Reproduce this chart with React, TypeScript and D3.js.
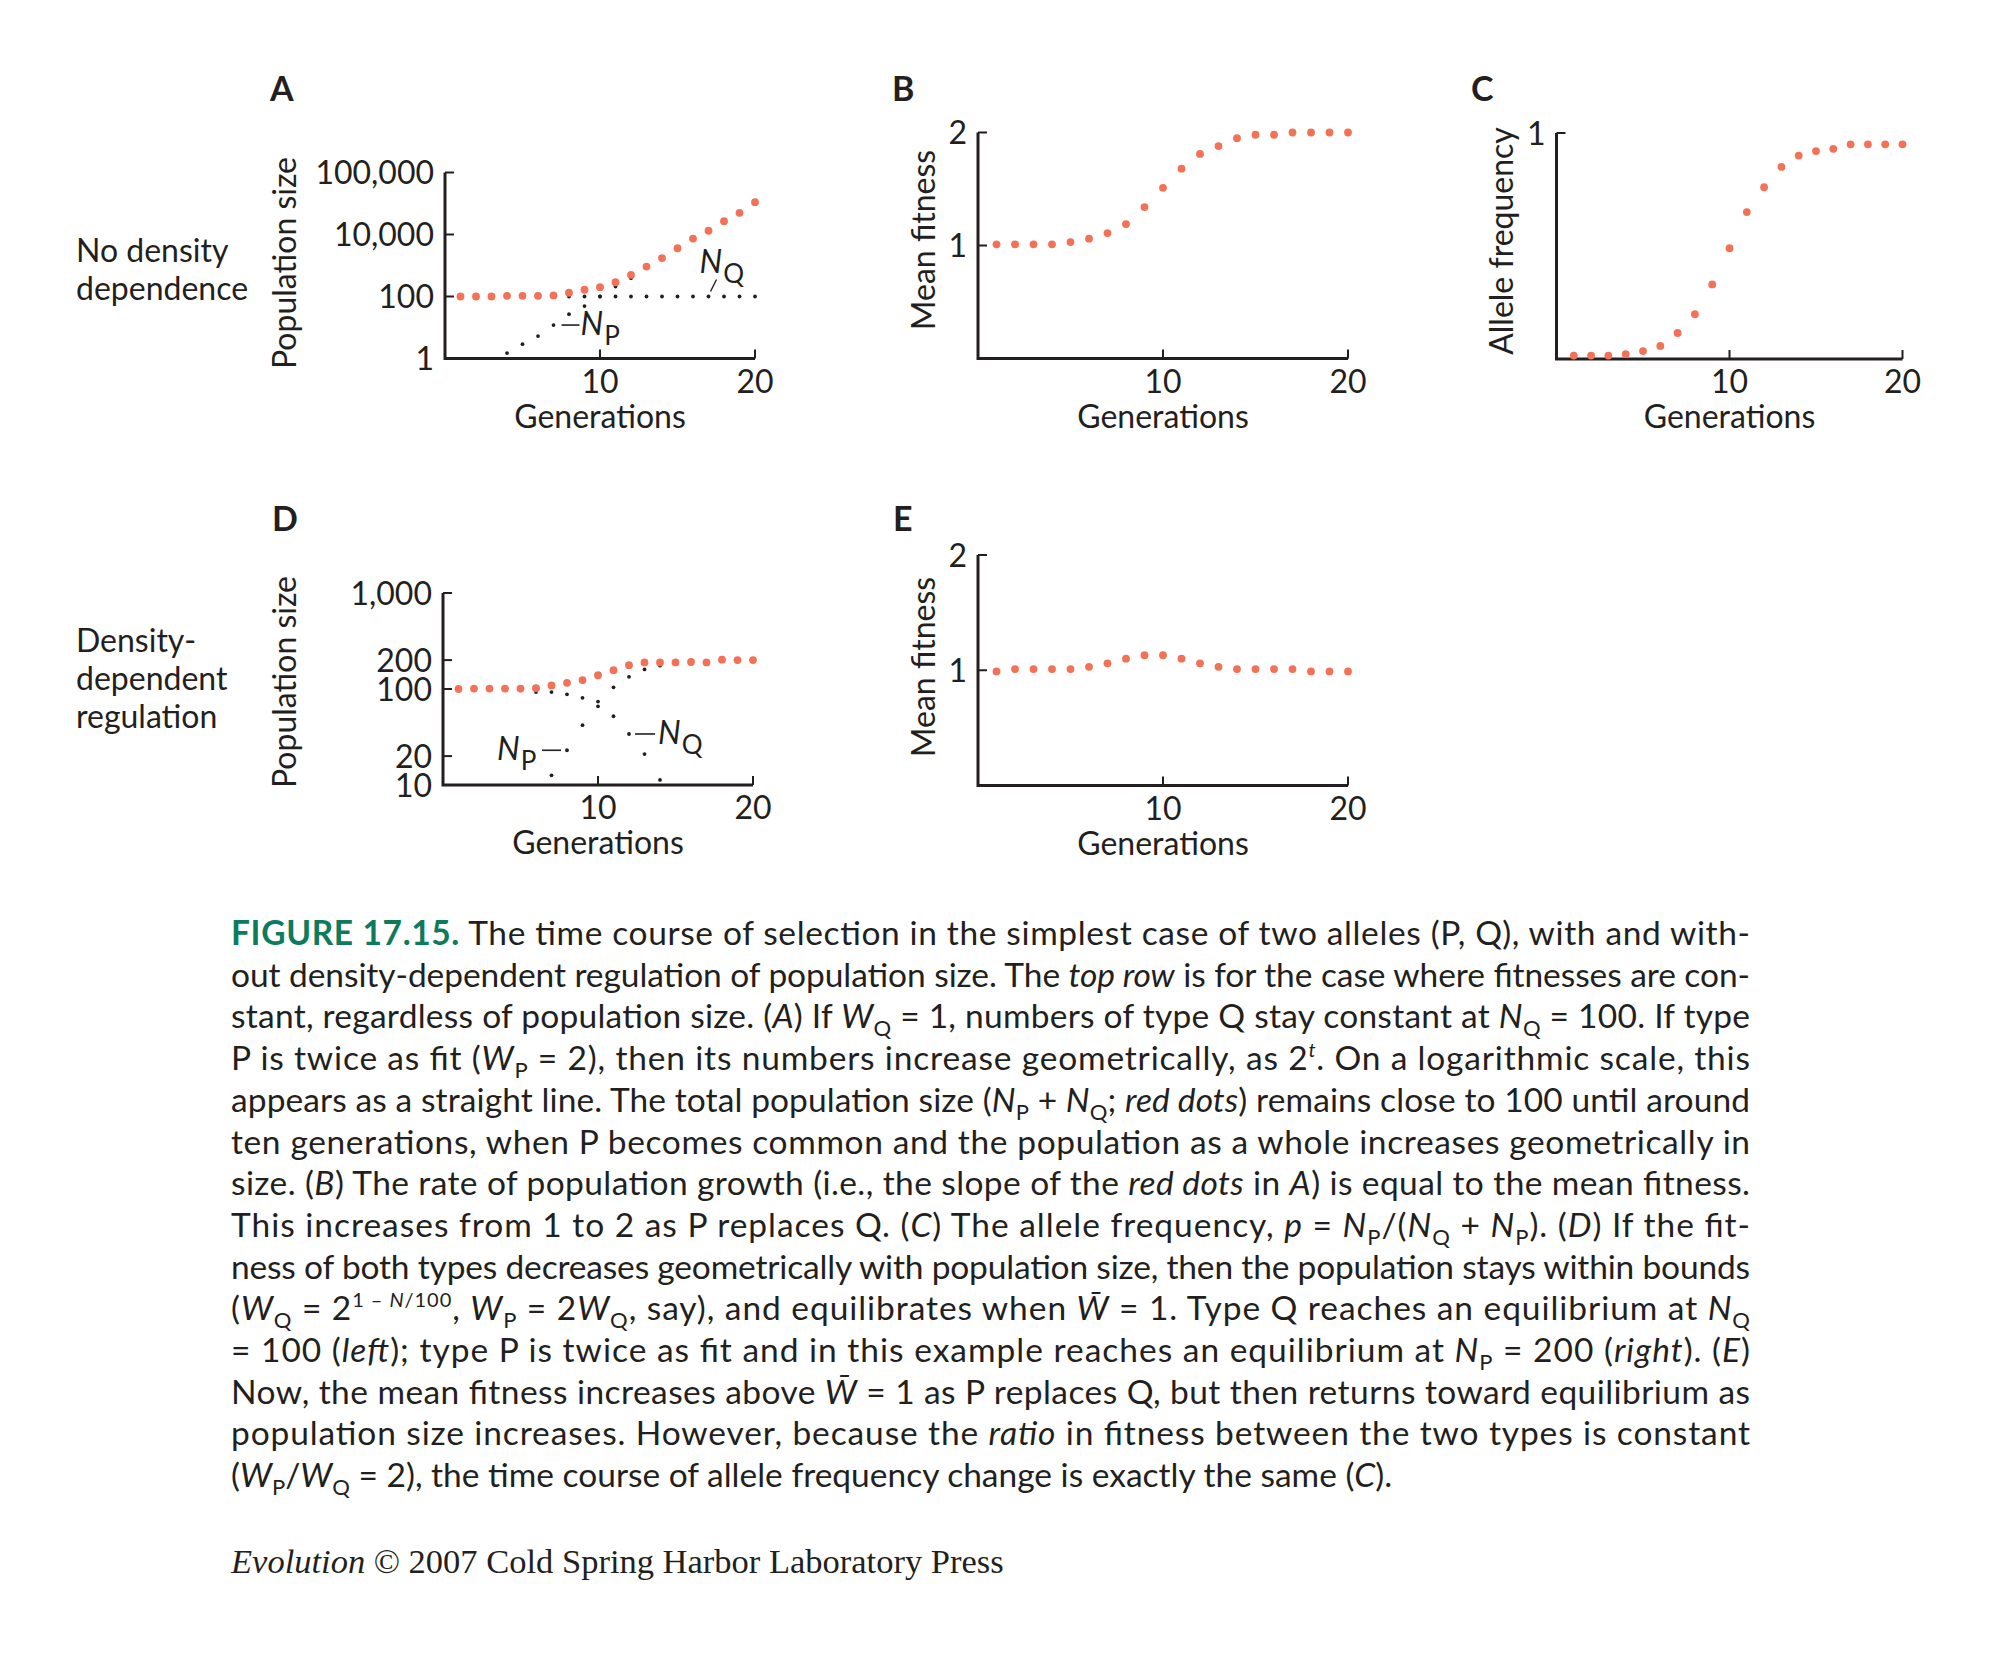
import React from "react";
import * as d3 from "d3";

// ---------- data ----------
const generations = [1, 2, 3, 4, 5, 6, 7, 8, 9, 10, 11, 12, 13, 14, 15, 16, 17, 18, 19, 20];

// A: no density dependence (log population size)
const aTotal = [100, 100, 100, 105, 105, 105, 108, 132, 165, 200, 288, 495, 920, 1730, 3600, 7400, 13200, 27000, 50000, 110000];
const aNP = [null, null, null, 1.5, 2.9, 5.3, 12, 27, 49, 100, 210, 390, 820, 1630, 3500, 7300, 13100, 26900, 49900, 109900];
const aNQ = [100, 100, 100, 100, 100, 100, 100, 100, 100, 100, 100, 100, 100, 100, 100, 100, 100, 100, 100, 100];
const aTickValues = [1, 100, 10000, 1000000];
const aTickLabels = ["1", "100", "10,000", "100,000"];

// B: mean fitness
const bFitness = [1.01, 1.01, 1.01, 1.01, 1.03, 1.06, 1.11, 1.19, 1.34, 1.51, 1.68, 1.81, 1.88, 1.95, 1.98, 1.98, 2.0, 2.0, 2.0, 2.0];

// C: allele frequency
const cFreq = [0.015, 0.015, 0.015, 0.022, 0.035, 0.058, 0.115, 0.198, 0.33, 0.49, 0.65, 0.76, 0.85, 0.9, 0.92, 0.93, 0.95, 0.95, 0.95, 0.95];

// D: density-dependent regulation (log population size)
const dTotal = [100, 101, 101, 101, 101, 102, 109, 116, 124, 139, 157, 177, 189, 189, 189, 191, 189, 202, 200, 200];
const dNQ = [100, 100, 99, 99, 97, 93, 93, 88, 81, 74, 52, 34, 21, 11.3, null, null, null, null, null, null];
const dNP = [null, null, null, null, null, null, 12.6, 23, 42, 66, 104, 134, 160, 175, 184, 188, 186, 200, 199, 199];
const dTickValues = [10, 20, 100, 200, 1000];
const dTickLabels = ["10", "20", "100", "200", "1,000"];

// E: mean fitness with density dependence
const eFitness = [0.99, 1.01, 1.01, 1.01, 1.01, 1.03, 1.06, 1.1, 1.13, 1.13, 1.1, 1.06, 1.03, 1.01, 1.01, 1.01, 1.01, 0.99, 0.99, 0.99];

const fitTicks = [1, 2];
const fitTickLabels = ["1", "2"];
const freqTicks = [1];
const freqTickLabels = ["1"];
const genTicks = [10, 20];
const genTickLabels = ["10", "20"];

// ---------- styles ----------
const INK = "#231f20";
const RED = "#f37257";
const TEAL = "#0e7b5c";
const SANS = "Lato, 'Open Sans', sans-serif";
const LABEL_SIZE = 32;
const RED_R = 3.9;
const BLACK_R = 1.9;

type Seg = { t: string; i?: boolean; sub?: boolean; sup?: boolean; teal?: boolean; b?: boolean };

const WBAR = "W\u0304";

const captionLines: Seg[][] = [
  [{ t: "FIGURE 17.15.", teal: true, b: true }, { t: " The time course of selection in the simplest case of two alleles (P, Q), with and with-" }],
  [{ t: "out density-dependent regulation of population size. The " }, { t: "top row", i: true }, { t: " is for the case where fitnesses are con-" }],
  [{ t: "stant, regardless of population size. (" }, { t: "A", i: true }, { t: ") If " }, { t: "W", i: true }, { t: "Q", sub: true }, { t: " = 1, numbers of type Q stay constant at " }, { t: "N", i: true }, { t: "Q", sub: true }, { t: " = 100. If type" }],
  [{ t: "P is twice as fit (" }, { t: "W", i: true }, { t: "P", sub: true }, { t: " = 2), then its numbers increase geometrically, as 2" }, { t: "t", sup: true, i: true }, { t: ". On a logarithmic scale, this" }],
  [{ t: "appears as a straight line. The total population size (" }, { t: "N", i: true }, { t: "P", sub: true }, { t: " + " }, { t: "N", i: true }, { t: "Q", sub: true }, { t: "; " }, { t: "red dots", i: true }, { t: ") remains close to 100 until around" }],
  [{ t: "ten generations, when P becomes common and the population as a whole increases geometrically in" }],
  [{ t: "size. (" }, { t: "B", i: true }, { t: ") The rate of population growth (i.e., the slope of the " }, { t: "red dots", i: true }, { t: " in " }, { t: "A", i: true }, { t: ") is equal to the mean fitness." }],
  [{ t: "This increases from 1 to 2 as P replaces Q. (" }, { t: "C", i: true }, { t: ") The allele frequency, " }, { t: "p", i: true }, { t: " = " }, { t: "N", i: true }, { t: "P", sub: true }, { t: "/(" }, { t: "N", i: true }, { t: "Q", sub: true }, { t: " + " }, { t: "N", i: true }, { t: "P", sub: true }, { t: "). (" }, { t: "D", i: true }, { t: ") If the fit-" }],
  [{ t: "ness of both types decreases geometrically with population size, then the population stays within bounds" }],
  [{ t: "(" }, { t: "W", i: true }, { t: "Q", sub: true }, { t: " = 2" }, { t: "1 \u2013 ", sup: true }, { t: "N", sup: true, i: true }, { t: "/100", sup: true }, { t: ", " }, { t: "W", i: true }, { t: "P", sub: true }, { t: " = 2" }, { t: "W", i: true }, { t: "Q", sub: true }, { t: ", say), and equilibrates when " }, { t: WBAR, i: true }, { t: " = 1. Type Q reaches an equilibrium at " }, { t: "N", i: true }, { t: "Q", sub: true }],
  [{ t: "= 100 (" }, { t: "left", i: true }, { t: "); type P is twice as fit and in this example reaches an equilibrium at " }, { t: "N", i: true }, { t: "P", sub: true }, { t: " = 200 (" }, { t: "right", i: true }, { t: "). (" }, { t: "E", i: true }, { t: ")" }],
  [{ t: "Now, the mean fitness increases above " }, { t: WBAR, i: true }, { t: " = 1 as P replaces Q, but then returns toward equilibrium as" }],
  [{ t: "population size increases. However, because the " }, { t: "ratio", i: true }, { t: " in fitness between the two types is constant" }],
  [{ t: "(" }, { t: "W", i: true }, { t: "P", sub: true }, { t: "/" }, { t: "W", i: true }, { t: "Q", sub: true }, { t: " = 2), the time course of allele frequency change is exactly the same (" }, { t: "C", i: true }, { t: ")." }],
];

// ---------- scales ----------
const genDomain: [number, number] = [0, 20];
const xA = d3.scaleLinear().domain(genDomain).range([445, 755]);
const yA = d3.scaleLog().domain([1, 1000000]).range([358.5, 172.5]);
const xB = d3.scaleLinear().domain(genDomain).range([978, 1348]);
const yB = d3.scaleLinear().domain([0, 2]).range([358.5, 132.5]);
const xC = d3.scaleLinear().domain(genDomain).range([1556.5, 1902.5]);
const yC = d3.scaleLinear().domain([0, 1]).range([359, 133]);
const xD = d3.scaleLinear().domain(genDomain).range([443, 753]);
const yD = d3.scaleLog().domain([10, 1000]).range([785, 593]);
const xE = d3.scaleLinear().domain(genDomain).range([978, 1348]);
const yE = d3.scaleLinear().domain([0, 2]).range([785.5, 555]);

type Sc = (v: number) => number;

function Dots({ xs, ys, values, r, fill }: { xs: Sc; ys: Sc; values: (number | null)[]; r: number; fill: string }) {
  return (
    <g>
      {generations.map((g, i) =>
        values[i] == null ? null : <circle key={g} cx={xs(g)} cy={ys(values[i] as number)} r={r} fill={fill} />
      )}
    </g>
  );
}

function Axes({ xs, ys, yTicks, yLabels, yTitle, yTitleX, yTitleY }: any) {
  const [x0, x1] = xs.range();
  const [yb, yt] = ys.range();
  return (
    <g fontFamily={SANS} fill={INK} fontSize={LABEL_SIZE}>
      <path d={`M${x0},${yt}V${yb}H${x1}`} fill="none" stroke={INK} strokeWidth={3} />
      {yTicks.map((v: number, i: number) => (
        <g key={v}>
          <line x1={x0} x2={x0 + 9} y1={ys(v)} y2={ys(v)} stroke={INK} strokeWidth={2} />
          <text x={x0 - 11} y={ys(v)} dy="0.36em" textAnchor="end">{yLabels[i]}</text>
        </g>
      ))}
      {genTicks.map((v, i) => (
        <g key={v}>
          <line x1={xs(v)} x2={xs(v)} y1={yb} y2={yb - 9} stroke={INK} strokeWidth={2} />
          <text x={xs(v)} y={yb + 34} textAnchor="middle">{genTickLabels[i]}</text>
        </g>
      ))}
      <text x={xs(10)} y={yb + 69} textAnchor="middle">Generations</text>
      <text transform={`translate(${yTitleX},${yTitleY}) rotate(-90)`} textAnchor="middle">{yTitle}</text>
    </g>
  );
}

function NLabel({ x, y, sub }: { x: number; y: number; sub: string }) {
  return (
    <text x={x} y={y} fontFamily={SANS} fontSize={32} fill={INK}>
      <tspan fontStyle="italic">N</tspan>
      <tspan fontSize={26} dy={10} dx={1}>{sub}</tspan>
    </text>
  );
}

function CaptionLine({ segs, y, justify }: { segs: Seg[]; y: number; justify: boolean }) {
  let cur = 0;
  const spans = segs.map((s, k) => {
    const target = s.sub ? 8 : s.sup ? -13 : 0;
    const dy = target - cur;
    cur = target;
    return (
      <tspan
        key={k}
        dy={dy !== 0 ? dy : undefined}
        fontStyle={s.i ? "italic" : undefined}
        fontWeight={s.b ? 700 : undefined}
        fill={s.teal ? TEAL : undefined}
        fontSize={s.sub ? 22 : s.sup ? 20 : undefined}
      >
        {s.t}
      </tspan>
    );
  });
  return (
    <text
      x={231}
      y={y}
      fontFamily={SANS}
      fontSize={33.5}
      fill={INK}
      xmlSpace="preserve"
      {...(justify ? { textLength: 1519, lengthAdjust: "spacing" } : {})}
    >
      {spans}
    </text>
  );
}

export default function App() {
  return (
    <svg
      width={1995}
      height={1656}
      viewBox="0 0 1995 1656"
      style={{ position: "absolute", left: 0, top: 0, background: "#fff", display: "block" }}
    >
      <rect x={0} y={0} width={1995} height={1656} fill="#fff" />

      {/* panel letters */}
      <g fontFamily={SANS} fontWeight={700} fontSize={34} fill={INK}>
        <text x={270} y={101}>A</text>
        <text x={892} y={101}>B</text>
        <text x={1471} y={101}>C</text>
        <text x={272} y={531}>D</text>
        <text x={893} y={531}>E</text>
      </g>

      {/* row labels */}
      <g fontFamily={SANS} fontSize={LABEL_SIZE} fill={INK}>
        <text x={76} y={262}>No density</text>
        <text x={76} y={300}>dependence</text>
        <text x={76} y={652}>Density-</text>
        <text x={76} y={690}>dependent</text>
        <text x={76} y={728}>regulation</text>
      </g>

      {/* A */}
      <Axes xs={xA} ys={yA} yTicks={aTickValues} yLabels={aTickLabels} yTitle="Population size" yTitleX={296} yTitleY={263} />
      <Dots xs={xA} ys={yA} values={aNQ} r={BLACK_R} fill={INK} />
      <Dots xs={xA} ys={yA} values={aNP} r={BLACK_R} fill={INK} />
      <Dots xs={xA} ys={yA} values={aTotal} r={RED_R} fill={RED} />
      <g>
        <line x1={xA(7) + 8} x2={xA(7) + 26} y1={yA(aNP[6] as number)} y2={yA(aNP[6] as number)} stroke={INK} strokeWidth={1.6} />
        <NLabel x={xA(7) + 27} y={yA(aNP[6] as number) + 10} sub="P" />
        <line x1={xA(17) + 2} x2={xA(17) + 8} y1={yA(aNQ[16]) - 5} y2={yA(aNQ[16]) - 17} stroke={INK} strokeWidth={1.4} />
        <NLabel x={xA(17) - 9} y={yA(aNQ[16]) - 24} sub="Q" />
      </g>

      {/* B */}
      <Axes xs={xB} ys={yB} yTicks={fitTicks} yLabels={fitTickLabels} yTitle="Mean fitness" yTitleX={935} yTitleY={240} />
      <Dots xs={xB} ys={yB} values={bFitness} r={RED_R} fill={RED} />

      {/* C */}
      <Axes xs={xC} ys={yC} yTicks={freqTicks} yLabels={freqTickLabels} yTitle="Allele frequency" yTitleX={1513} yTitleY={241} />
      <Dots xs={xC} ys={yC} values={cFreq} r={RED_R} fill={RED} />

      {/* D */}
      <Axes xs={xD} ys={yD} yTicks={dTickValues} yLabels={dTickLabels} yTitle="Population size" yTitleX={296} yTitleY={682} />
      <Dots xs={xD} ys={yD} values={dNQ} r={BLACK_R} fill={INK} />
      <Dots xs={xD} ys={yD} values={dNP} r={BLACK_R} fill={INK} />
      <Dots xs={xD} ys={yD} values={dTotal} r={RED_R} fill={RED} />
      <g>
        <line x1={xD(8) - 25} x2={xD(8) - 6} y1={yD(dNP[7] as number)} y2={yD(dNP[7] as number)} stroke={INK} strokeWidth={1.6} />
        <NLabel x={xD(8) - 70} y={yD(dNP[7] as number) + 10} sub="P" />
        <line x1={xD(12) + 6} x2={xD(12) + 26} y1={yD(dNQ[11] as number)} y2={yD(dNQ[11] as number)} stroke={INK} strokeWidth={1.6} />
        <NLabel x={xD(12) + 29} y={yD(dNQ[11] as number) + 10} sub="Q" />
      </g>

      {/* E */}
      <Axes xs={xE} ys={yE} yTicks={fitTicks} yLabels={fitTickLabels} yTitle="Mean fitness" yTitleX={935} yTitleY={667} />
      <Dots xs={xE} ys={yE} values={eFitness} r={RED_R} fill={RED} />

      {/* caption */}
      {captionLines.map((segs, i) => (
        <CaptionLine key={i} segs={segs} y={945 + i * 41.7} justify={i < captionLines.length - 1} />
      ))}

      <text x={231} y={1573} fontFamily="'Liberation Serif', 'DejaVu Serif', serif" fontSize={34.5} fill={INK}>
        <tspan fontStyle="italic">Evolution</tspan>
        <tspan> © 2007 Cold Spring Harbor Laboratory Press</tspan>
      </text>
    </svg>
  );
}
